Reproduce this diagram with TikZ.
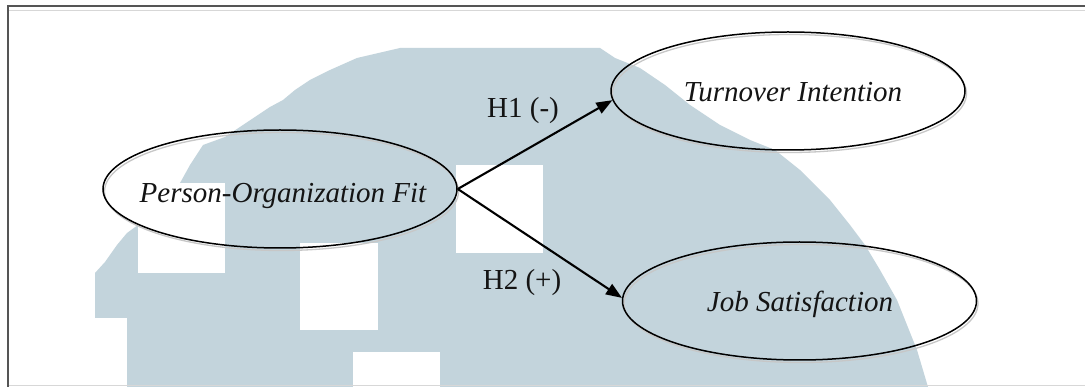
\documentclass[tikz,border=0pt]{standalone}
\usepackage{fontspec}
\setmainfont{Liberation Serif}
\usetikzlibrary{arrows.meta,shapes.geometric,shadows}
\definecolor{wm}{RGB}{195,212,220}
\definecolor{framegray}{RGB}{85,85,85}
\definecolor{framelight}{RGB}{215,215,215}
\definecolor{txt}{RGB}{20,20,20}
\tikzset{
  oval/.style={ellipse, draw=black, line width=1.5pt, minimum width=354pt,
    minimum height=118pt, inner sep=0pt,
    drop shadow={shadow xshift=1.5pt, shadow yshift=-2.5pt, fill=none,
      draw=black!22, line width=1.3pt, opacity=1}},
  lbl/.style={font=\fontsize{29}{35}\selectfont\itshape, text=txt, inner sep=0pt, anchor=base},
  hlbl/.style={font=\fontsize{29}{35}\selectfont, text=txt, inner sep=0pt, anchor=base},
  link/.style={line width=2.1pt, draw=black, -{Triangle[length=16pt,width=12pt]}},
  hole/.style={fill=white},
}
\begin{document}
\begin{tikzpicture}[x=1pt,y=-1pt]
\useasboundingbox (0,0) rectangle (1085,387);
\fill[white] (0,0) rectangle (1085,387);
% watermark
\fill[wm] (400,48) -- (600,48) -- (615,58) -- (640,68) -- (665,85) -- (690,105)
  -- (720,125) -- (750,140) -- (775,150) -- (800,170) -- (830,200) -- (850,225)
  -- (865,245) -- (880,270) -- (897,300) -- (905,320) -- (917,350) -- (928,387)
  -- (127,387) -- (127,318) -- (95,318) -- (95,273) -- (105,262) -- (117,245)
  -- (127,233) -- (138,225) -- (150,215) -- (180,183) -- (190,165) -- (203,145)
  -- (225,137) -- (240,127) -- (255,117) -- (270,107) -- (283,100) -- (295,90)
  -- (310,80) -- (330,70) -- (357,58) -- cycle;
\fill[hole] (138,183) rectangle (225,273);
\fill[hole] (300,243) rectangle (378,330);
\fill[hole] (353,352) rectangle (440,387);
\fill[hole] (456,165) rectangle (543,253);
% frame
\draw[framelight, line width=1.5pt] (9,10.5) -- (1085,10.5);
\draw[framelight, line width=1.2pt] (9,385.5) -- (1085,385.5);
\draw[framegray, line width=2pt] (8,387) -- (8,6.5) -- (1085,6.5);
% ellipses
\node[oval] (POF) at (280,189) {};
\node[oval] (TI) at (788,91) {};
\node[oval] (JS) at (799.5,301) {};
% labels
\node[lbl] (POFt) at (283,203) {Person-Organization Fit};
\node[lbl] (TIt) at (793,102) {Turnover Intention};
\node[lbl] (JSt) at (800,312) {Job Satisfaction};
% connectors
\draw[link] (POF.east) -- (TI.183);
\draw[link] (POF.east) -- (JS.179);
\node[hlbl] (H1) at (523,118) {H1 (-)};
\node[hlbl] (H2) at (522,290) {H2 (+)};
\end{tikzpicture}
\end{document}
